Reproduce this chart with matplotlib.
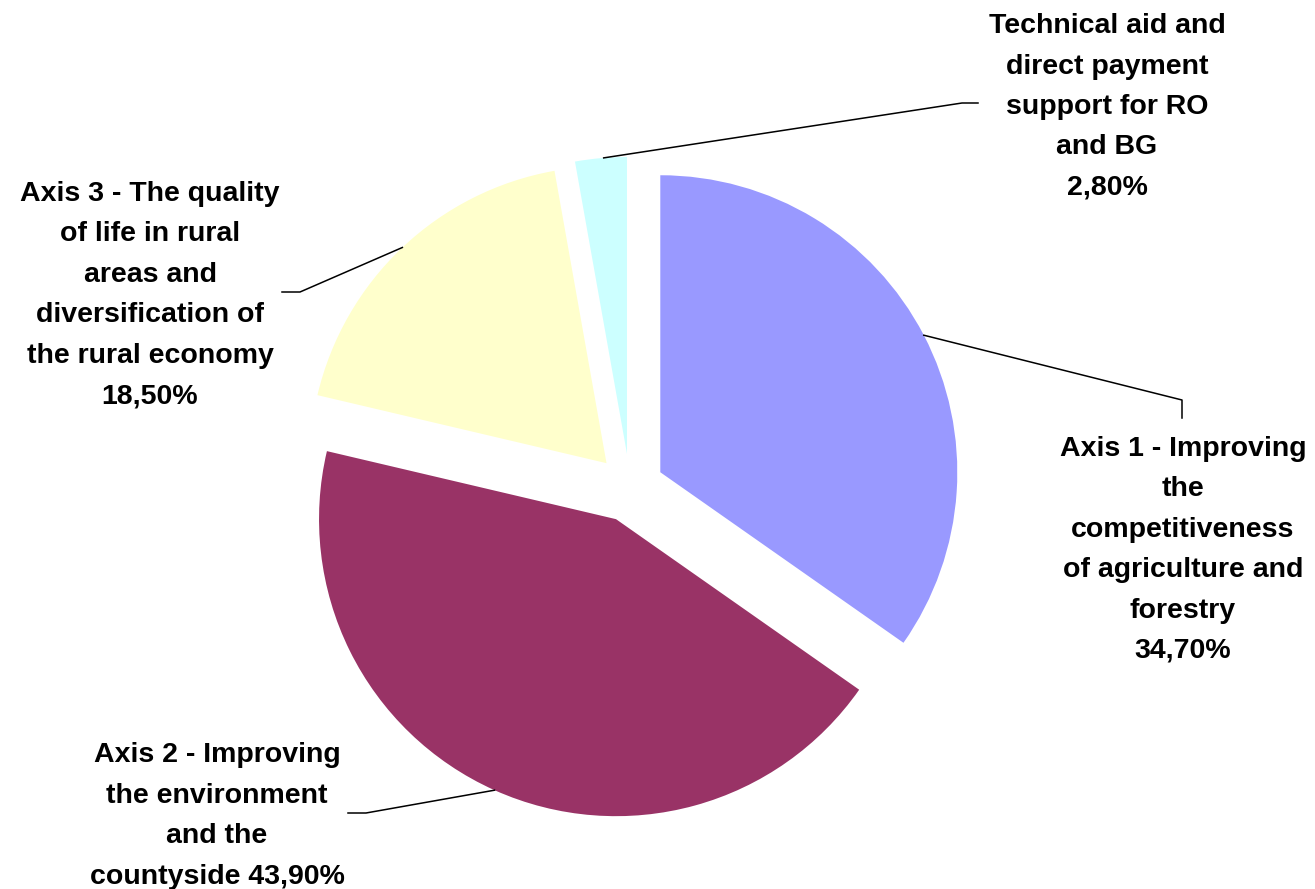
import numpy as np
import matplotlib
matplotlib.use("Agg")
from matplotlib import pyplot as plt

# slice data, clockwise from 12 o'clock
labels = ["Axis 1 - Improving\nthe\ncompetitiveness\nof agriculture and\nforestry\n34,70%",
          "Axis 2 - Improving\nthe environment\nand the\ncountyside 43,90%",
          "Axis 3 - The quality\nof life in rural\nareas and\ndiversification of\nthe rural economy\n18,50%",
          "Technical aid and\ndirect payment\nsupport for RO\nand BG\n2,80%"]
shares = [34.7, 43.9, 18.5, 2.8]
colors = ["#9999FF", "#993366", "#FFFFCC", "#CCFFFF"]

W, H = 1315, 889
cx, cy = 630, 488     # pie centre in pixels
R = 297.0             # radius in pixels

def px(x, y):
    # pixel coords -> data coords (radius units, origin at pie centre)
    return (x - cx) / R, (cy - y) / R

fig = plt.figure(figsize=(W / 100, H / 100), dpi=100)
ax = fig.add_axes([0, 0, 1, 1])
wedges, _ = ax.pie(shares, colors=colors, startangle=90, counterclock=False,
                   explode=[0.115] * 4, radius=1, center=(0, 0), frame=True,
                   wedgeprops=dict(linewidth=0))
ax.set_xlim(-cx / R, (W - cx) / R)
ax.set_ylim(-(H - cy) / R, cy / R)
ax.set_aspect("equal")
ax.axis("off")

# label block centres (px) and leader elbows / ends (px)
label_pos = [(1183, 550), (217, 816), (150, 295), (1107, 107)]
elbows = [((1182, 400), (1182, 418)),
          ((366, 813), (348, 813)),
          ((300, 292), (282, 292)),
          ((962, 103), (978, 103))]
# angle on each wedge arc where the leader starts (deg)
start_ang = [None, None, None, 94.5]

for w, lab, pos, (e1, e2), sa in zip(wedges, labels, label_pos, elbows, start_ang):
    ang = (w.theta1 + w.theta2) / 2 if sa is None else sa
    x0, y0 = w.center
    sx = x0 + np.cos(np.radians(ang))
    sy = y0 + np.sin(np.radians(ang))
    p1 = px(*e1)
    p2 = px(*e2)
    ax.plot([sx, p1[0], p2[0]], [sy, p1[1], p2[1]], color="black", lw=1.1)
    tx, ty = px(*pos)
    ax.text(tx, ty, lab, ha="center", va="center", fontsize=20.5, fontweight="bold",
            family="Liberation Sans", linespacing=1.72, multialignment="center")

fig.savefig("out.png", dpi=100)
